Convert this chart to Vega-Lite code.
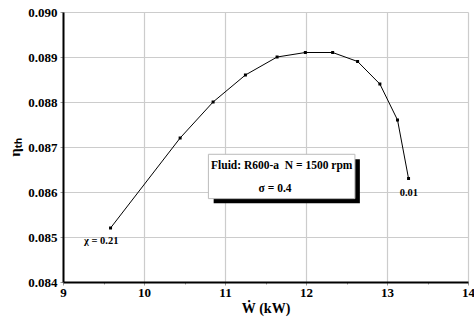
{
  "$schema": "https://vega.github.io/schema/vega-lite/v6.json",
  "width": 405,
  "height": 270,
  "autosize": {"type": "none"},
  "padding": {"left": 63, "top": 12, "right": 6, "bottom": 39},
  "background": "white",
  "config": {
    "view": {"stroke": null},
    "font": "Liberation Serif",
    "axis": {
      "labelFont": "Liberation Serif",
      "labelFontWeight": "bold",
      "labelFontSize": 13,
      "labelColor": "black",
      "titleFont": "Liberation Serif",
      "titleFontWeight": "bold",
      "titleColor": "black",
      "gridColor": "#cccccc",
      "gridWidth": 1.2,
      "domainColor": "black",
      "domainWidth": 2,
      "tickColor": "#999999"
    }
  },
  "datasets": {
    "curve": [
      {"W": 9.587, "eta": 0.0852},
      {"W": 10.446, "eta": 0.0872},
      {"W": 10.853, "eta": 0.0880},
      {"W": 11.252, "eta": 0.0886},
      {"W": 11.643, "eta": 0.0890},
      {"W": 11.992, "eta": 0.0891},
      {"W": 12.329, "eta": 0.0891},
      {"W": 12.637, "eta": 0.0889},
      {"W": 12.912, "eta": 0.0884},
      {"W": 13.130, "eta": 0.0876},
      {"W": 13.266, "eta": 0.0863}
    ],
    "box": [
      {"x": 10.795, "x2": 12.604, "y": 0.086838, "y2": 0.085853}
    ],
    "shadow": [
      {"x": 10.86, "x2": 12.665, "y": 0.08673, "y2": 0.08575}
    ],
    "notes": [
      {"x": 11.700, "y": 0.086571, "label": "Fluid: R600-a\u00a0 N = 1500 rpm", "size": 11.5},
      {"x": 11.618, "y": 0.086076, "label": "σ = 0.4", "size": 11.5},
      {"x": 9.472, "y": 0.084911, "label": "χ = 0.21", "size": 10.5},
      {"x": 13.27, "y": 0.085971, "label": "0.01", "size": 10.5}
    ]
  },
  "layer": [
    {
      "data": {"name": "curve"},
      "mark": {"type": "line", "color": "black", "strokeWidth": 1, "point": {"filled": true, "shape": "square", "size": 9, "color": "black"}},
      "encoding": {
        "x": {
          "field": "W", "type": "quantitative",
          "scale": {"domain": [9, 14], "nice": false, "zero": false},
          "axis": {
            "values": [9, 9.5, 10, 10.5, 11, 11.5, 12, 12.5, 13, 13.5, 14],
            "labelExpr": "datum.value % 1 == 0 ? format(datum.value, 'd') : ''",
            "gridOpacity": {"condition": {"test": "datum.value % 1 != 0", "value": 0}, "value": 1},
            "tickSize": {"condition": {"test": "datum.value % 1 != 0", "value": 2}, "value": 3},
            "labelPadding": 1,
            "labelFlush": false,
            "title": "Ẇ (kW)",
            "titleFontSize": 14,
            "titlePadding": 2
          }
        },
        "y": {
          "field": "eta", "type": "quantitative",
          "scale": {"domain": [0.084, 0.090], "nice": false, "zero": false},
          "axis": {
            "values": [0.084, 0.0845, 0.085, 0.0855, 0.086, 0.0865, 0.087, 0.0875, 0.088, 0.0885, 0.089, 0.0895, 0.090],
            "labelExpr": "round(datum.value * 10000) % 10 == 0 ? format(datum.value, '.3f') : ''",
            "gridOpacity": {"condition": {"test": "round(datum.value * 10000) % 10 != 0", "value": 0}, "value": 1},
            "tickSize": {"condition": {"test": "round(datum.value * 10000) % 10 != 0", "value": 2}, "value": 3},
            "labelPadding": 3,
            "labelFlush": false,
            "title": "ηₜₕ",
            "titleFontSize": 15,
            "titlePadding": 5
          }
        }
      }
    },
    {
      "data": {"name": "shadow"},
      "mark": {"type": "rect", "color": "black"},
      "encoding": {
        "x": {"field": "x", "type": "quantitative"},
        "x2": {"field": "x2"},
        "y": {"field": "y", "type": "quantitative"},
        "y2": {"field": "y2"}
      }
    },
    {
      "data": {"name": "box"},
      "mark": {"type": "rect", "fill": "white", "stroke": "#bbbbbb", "strokeWidth": 1},
      "encoding": {
        "x": {"field": "x", "type": "quantitative"},
        "x2": {"field": "x2"},
        "y": {"field": "y", "type": "quantitative"},
        "y2": {"field": "y2"}
      }
    },
    {
      "data": {"name": "notes"},
      "mark": {"type": "text", "font": "Liberation Serif", "fontWeight": "bold", "color": "black", "align": "center", "baseline": "middle"},
      "encoding": {
        "x": {"field": "x", "type": "quantitative"},
        "y": {"field": "y", "type": "quantitative"},
        "text": {"field": "label"},
        "size": {"field": "size", "type": "quantitative", "scale": null}
      }
    }
  ]
}
